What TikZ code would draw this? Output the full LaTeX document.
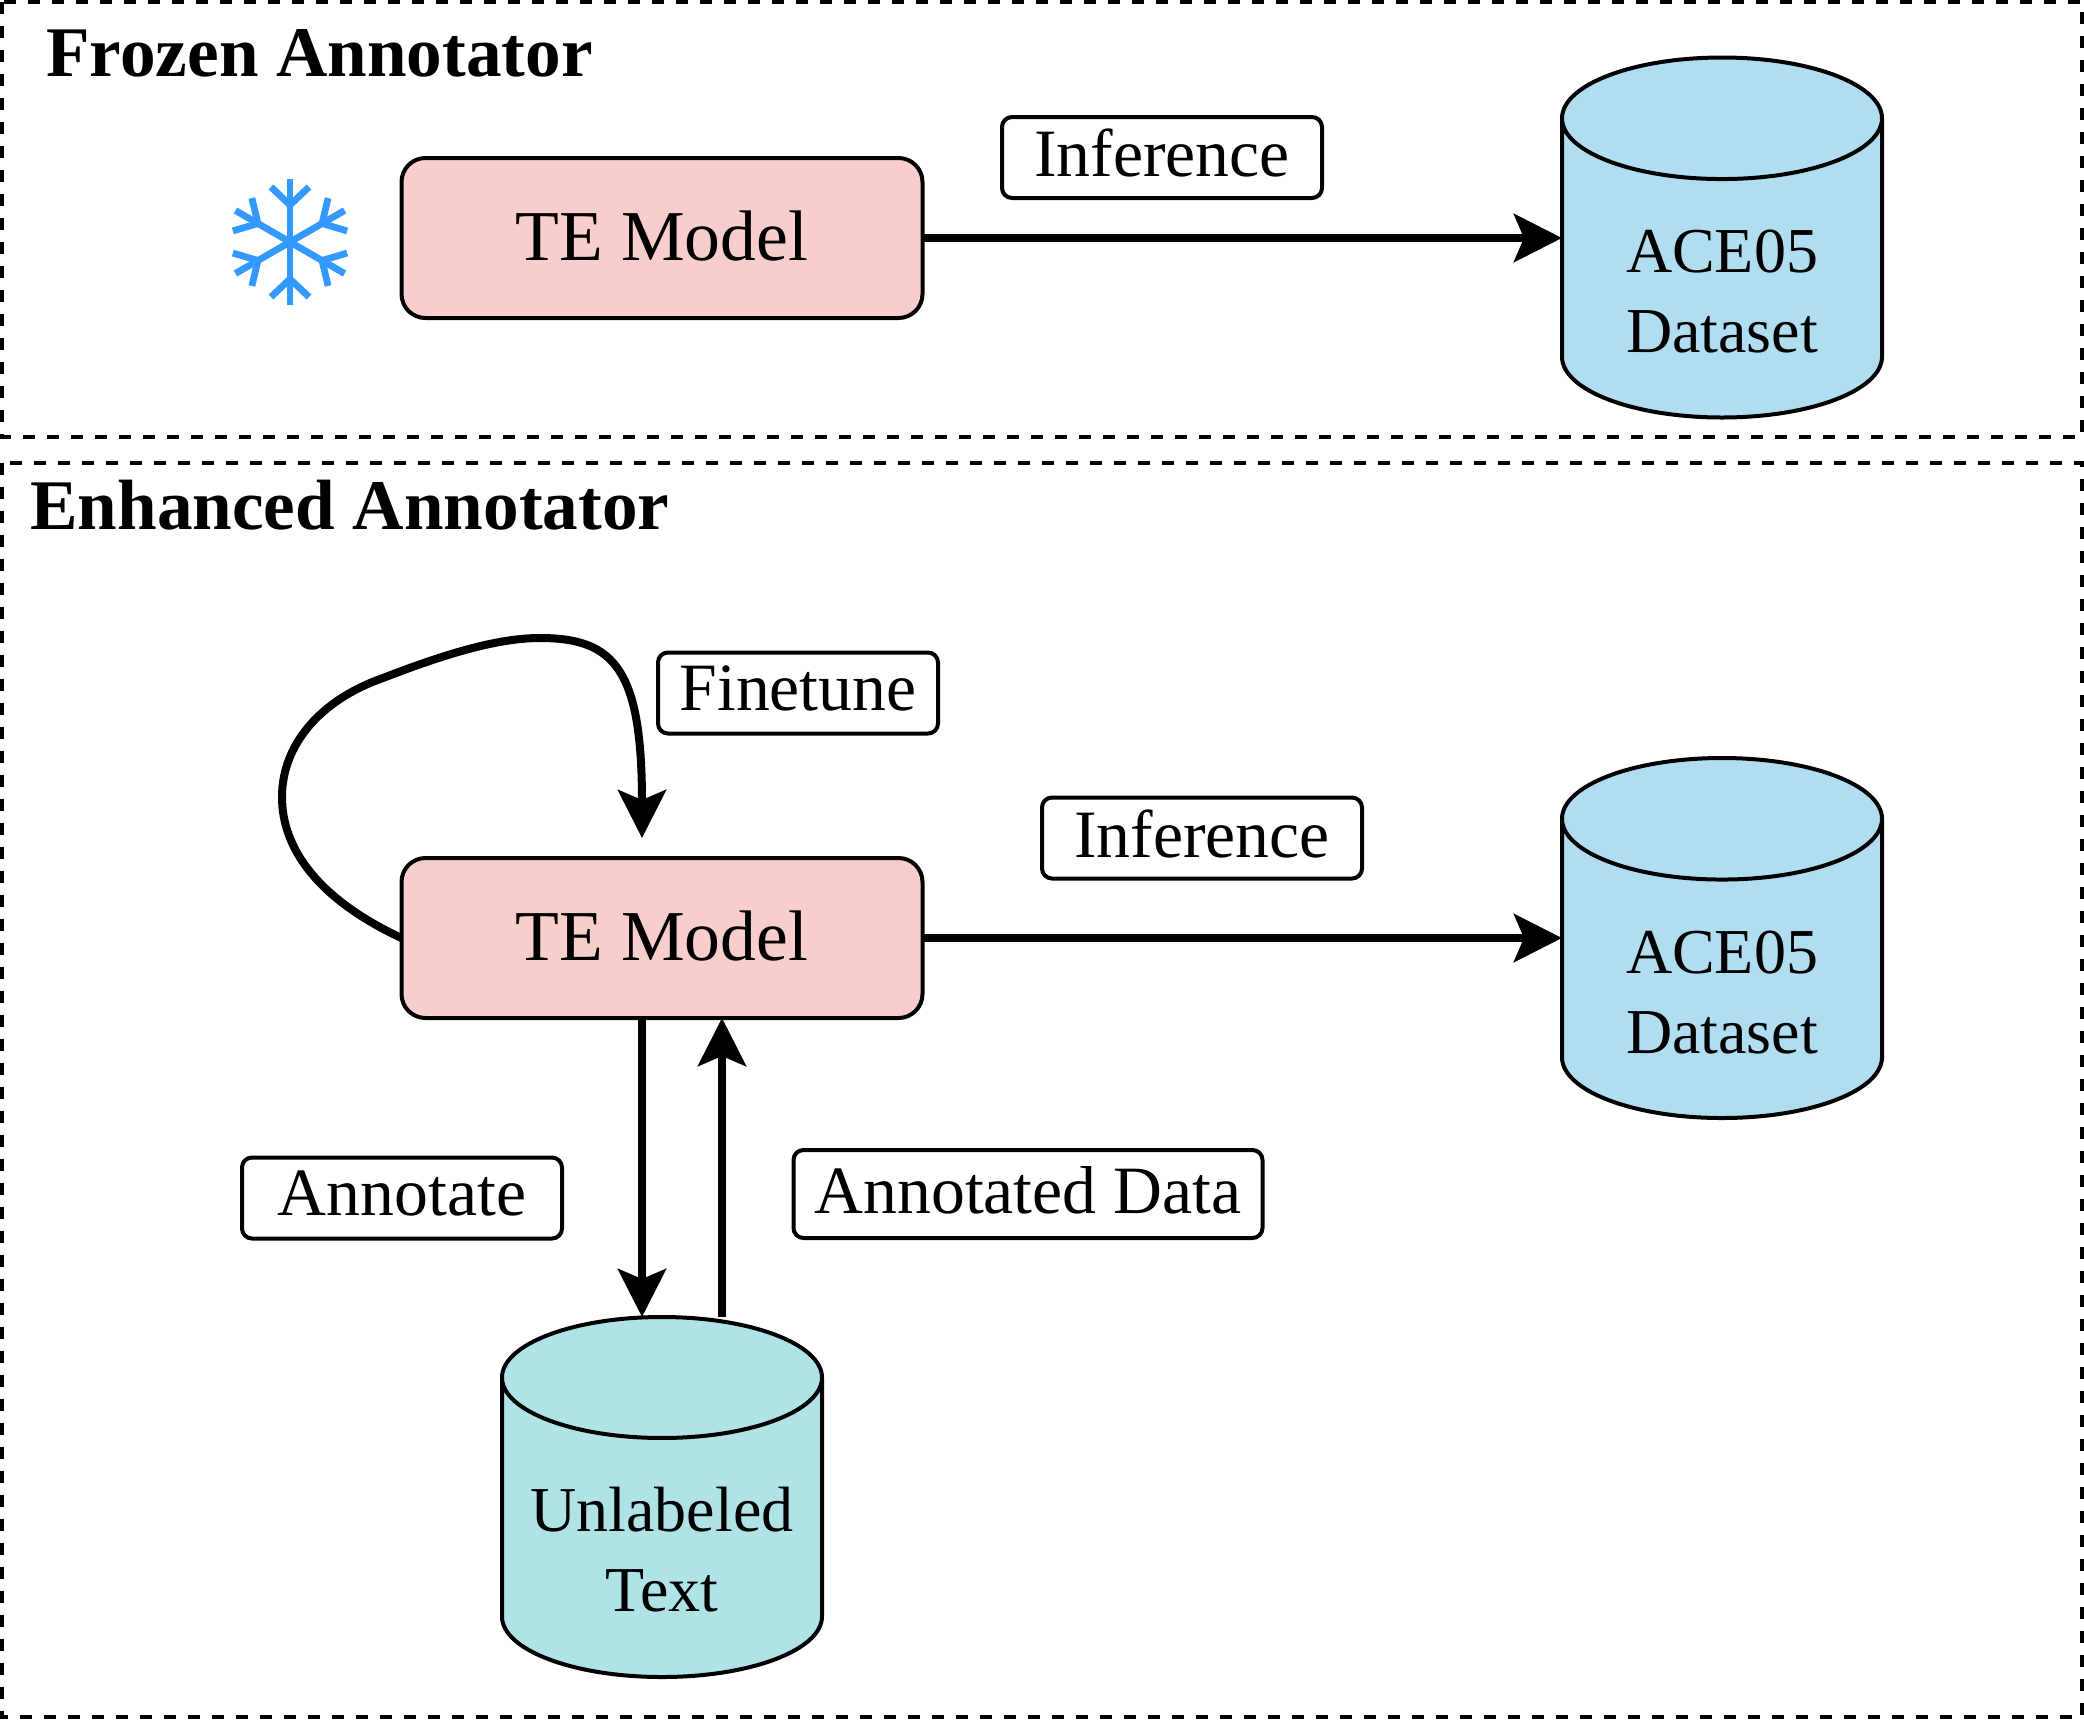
\documentclass[tikz,border=0pt]{standalone}
\usepackage{fontspec}
\setmainfont{Liberation Serif}
\usepackage{xcolor}
\usetikzlibrary{calc}
\usetikzlibrary{arrows.meta}
\usetikzlibrary{shapes.geometric}
\definecolor{modelpink}{HTML}{F8CECC}
\definecolor{datablue}{HTML}{B1DDF0}
\definecolor{texttea}{HTML}{B0E3E6}
\definecolor{flakeblue}{HTML}{3399FF}
\tikzset{
	panel/.style={draw,line width=2pt,dash pattern=on 6pt off 6pt},
	paneltitle/.style={anchor=west,inner sep=0pt,font=\fontsize{35.6}{42}\selectfont\bfseries},
	model/.style={draw,line width=2pt,rounded corners=12pt,fill=modelpink,minimum width=260.5pt,minimum height=80pt,inner sep=0pt,outer sep=0pt,text depth=2pt,font=\fontsize{35.8}{42}\selectfont},
	store/.style={cylinder,shape border rotate=90,draw,line width=2pt,aspect=0.633,minimum width=160pt,minimum height=180pt,inner sep=0pt,outer sep=0pt,anchor=shape center,align=center,text height=84pt,font=\fontsize{32}{40}\selectfont},
	tag/.style={draw,line width=2pt,rounded corners=5pt,fill=white,inner sep=0pt,minimum height=40.5pt,text depth=4.5pt,font=\fontsize{33.85}{40}\selectfont},
	flow/.style={line width=4pt,-{Stealth[length=24pt,width=24pt,inset=5pt]}}
}
\begin{document}
\begin{tikzpicture}[x=0.5pt,y=-0.5pt]
	\useasboundingbox (0,0) rectangle (2084,1720);
	% two panels
	\draw[panel] (2,2) rectangle (2082,437);
	\draw[panel] (2,463) rectangle (2082,1717);
	\node[paneltitle] (frozentitle) at (46,53) {Frozen Annotator};
	\node[paneltitle] (enhancedtitle) at (30,505) {Enhanced Annotator};
	% snowflake
	\foreach \ang in {0,60,...,300}{
		\begin{scope}[shift={(290,242)},rotate=\ang,flakeblue,line width=3.4pt]
			\draw (0,0)--(0,-63);
			\draw (-19,-55)--(0,-37)--(19,-55);
		\end{scope}
	}
	% upper row
	\node[model] (topmodel) at (662,238) {TE Model};
	\node[store,fill=datablue] (topdata) at (1722,237.5) {ACE05\\Dataset};
	\node[tag,minimum width=160pt] (topinfer) at (1162,157.5) {Inference};
	\draw[flow] (topmodel.east)--(topmodel.east -| topdata.west);
	% lower row
	\node[model] (lowmodel) at (662,938) {TE Model};
	\node[store,fill=datablue] (lowdata) at (1722,938) {ACE05\\Dataset};
	\node[store,fill=texttea,aspect=0.46] (rawtext) at (662,1497) {Unlabeled\\Text};
	\node[tag,minimum width=160pt] (lowinfer) at (1202,838) {Inference};
	\node[tag,minimum width=140pt] (finetune) at (798,693) {Finetune};
	\node[tag,minimum width=160pt] (annotate) at (402,1198) {Annotate};
	\node[tag,minimum width=234.5pt,minimum height=44pt] (annodata) at (1028,1194) {Annotated Data};
	\coordinate (loopend) at ($(lowmodel.north)+(-20,-20)$);
	\draw[flow] (lowmodel.west) .. controls (320,900) and (282,850) .. (282,797)
		.. controls (282,745) and (320,700) .. (383,678)
		.. controls (450,652) and (500,638) .. (540,638)
		.. controls (615,638) and (642,670) .. (loopend);
	\draw[flow] (lowmodel.east)--(lowmodel.east -| lowdata.west);
	\draw[flow] ($(lowmodel.south)+(-20,0)$)--($(rawtext.north)+(-20,0)$);
	\draw[flow] ($(rawtext.north)+(60,0)$)--($(lowmodel.south)+(60,0)$);
\end{tikzpicture}
\end{document}
